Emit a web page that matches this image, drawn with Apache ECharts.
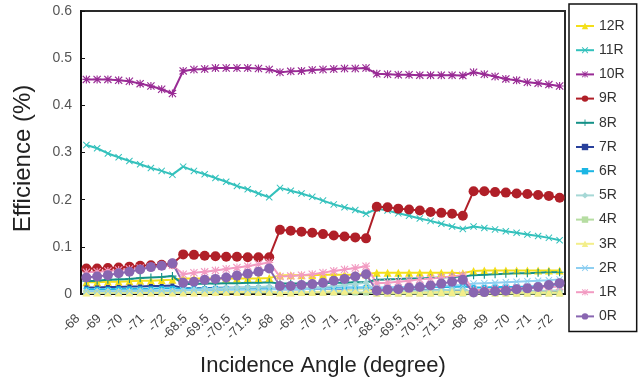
<!DOCTYPE html>
<html>
<head>
<meta charset="utf-8">
<script src="https://cdn.jsdelivr.net/npm/echarts@6/dist/echarts.min.js"></script>
<style>
html,body{margin:0;padding:0;background:#fff;}
#chart{width:639px;height:383px;}
</style>
</head>
<body>
<div id="chart"></div>
<script>
// Incidence angles: five sweeps of -68 .. -72 in 0.5 degree steps
const angles = [
  '-68','-68.5','-69','-69.5','-70','-70.5','-71','-71.5','-72',
  '-68','-68.5','-69','-69.5','-70','-70.5','-71','-71.5','-72',
  '-68','-68.5','-69','-69.5','-70','-70.5','-71','-71.5','-72',
  '-68','-68.5','-69','-69.5','-70','-70.5','-71','-71.5','-72',
  '-68','-68.5','-69','-69.5','-70','-70.5','-71','-71.5','-72'
];

const yTicks = [0, 0.1, 0.2, 0.3, 0.4, 0.5, 0.6];

// Efficiency per diffraction order (%)
const eff12R = [0.025,0.025,0.026,0.026,0.027,0.028,0.028,0.029,0.030, 0.033,0.033,0.033,0.033,0.033,0.033,0.033,0.033,0.034, 0.039,0.040,0.040,0.040,0.041,0.041,0.041,0.041,0.042, 0.045,0.045,0.045,0.045,0.045,0.045,0.045,0.045,0.044, 0.049,0.050,0.050,0.050,0.050,0.050,0.050,0.050,0.050];
const eff11R = [0.316,0.309,0.298,0.290,0.282,0.275,0.267,0.261,0.253, 0.270,0.261,0.254,0.246,0.238,0.229,0.222,0.213,0.205, 0.225,0.219,0.213,0.206,0.198,0.190,0.184,0.178,0.170, 0.181,0.177,0.171,0.166,0.160,0.155,0.149,0.143,0.138, 0.143,0.140,0.137,0.133,0.130,0.126,0.123,0.119,0.114];
const eff10R = [0.455,0.455,0.455,0.453,0.451,0.446,0.441,0.434,0.425, 0.473,0.476,0.477,0.479,0.479,0.479,0.479,0.478,0.476, 0.470,0.472,0.473,0.475,0.476,0.477,0.478,0.478,0.479, 0.467,0.466,0.465,0.465,0.464,0.464,0.464,0.464,0.463, 0.470,0.466,0.461,0.456,0.453,0.449,0.447,0.444,0.441];
const eff9R  = [0.054,0.054,0.055,0.056,0.058,0.060,0.061,0.062,0.064, 0.084,0.083,0.081,0.080,0.079,0.079,0.078,0.078,0.078, 0.136,0.134,0.132,0.130,0.127,0.124,0.122,0.120,0.118, 0.185,0.184,0.181,0.179,0.177,0.174,0.172,0.170,0.166, 0.218,0.218,0.216,0.215,0.213,0.212,0.210,0.208,0.204];
const eff8R  = [0.027,0.028,0.030,0.031,0.032,0.034,0.035,0.036,0.038, 0.021,0.021,0.022,0.022,0.023,0.023,0.024,0.024,0.025, 0.022,0.022,0.022,0.023,0.023,0.024,0.024,0.025,0.025, 0.030,0.031,0.032,0.033,0.033,0.034,0.035,0.036,0.037, 0.040,0.041,0.042,0.043,0.044,0.044,0.045,0.046,0.046];
const eff7R  = [0.014,0.014,0.015,0.015,0.016,0.016,0.017,0.017,0.018, 0.012,0.012,0.012,0.013,0.013,0.013,0.013,0.014,0.014, 0.010,0.010,0.010,0.011,0.011,0.011,0.011,0.012,0.012, 0.007,0.007,0.007,0.008,0.008,0.008,0.008,0.008,0.009, 0.004,0.004,0.004,0.004,0.005,0.005,0.005,0.005,0.005];
const eff6R  = [0.010,0.010,0.010,0.011,0.011,0.011,0.011,0.012,0.012, 0.011,0.011,0.011,0.012,0.012,0.012,0.013,0.013,0.013, 0.012,0.012,0.012,0.013,0.013,0.013,0.014,0.014,0.014, 0.013,0.013,0.014,0.014,0.014,0.015,0.015,0.015,0.016, 0.014,0.014,0.015,0.015,0.015,0.016,0.016,0.016,0.017];
const eff5R  = [0.006,0.006,0.006,0.006,0.006,0.007,0.007,0.007,0.007, 0.008,0.009,0.010,0.011,0.012,0.013,0.014,0.015,0.016, 0.010,0.011,0.012,0.014,0.015,0.017,0.019,0.021,0.024, 0.005,0.006,0.006,0.007,0.007,0.008,0.008,0.009,0.009, 0.004,0.004,0.005,0.005,0.006,0.006,0.007,0.007,0.008];
const eff4R  = [0.002,0.002,0.002,0.002,0.002,0.002,0.002,0.002,0.002, 0.002,0.002,0.002,0.002,0.003,0.003,0.003,0.003,0.003, 0.002,0.002,0.002,0.003,0.003,0.003,0.003,0.003,0.003, 0.001,0.001,0.001,0.001,0.001,0.001,0.001,0.001,0.001, 0.001,0.001,0.001,0.001,0.001,0.001,0.001,0.001,0.001];
const eff3R  = [0.003,0.003,0.003,0.003,0.003,0.003,0.003,0.003,0.003, 0.003,0.003,0.003,0.004,0.004,0.004,0.004,0.005,0.005, 0.003,0.003,0.004,0.004,0.005,0.006,0.007,0.009,0.011, 0.003,0.003,0.003,0.003,0.003,0.003,0.004,0.004,0.004, 0.003,0.003,0.003,0.003,0.003,0.003,0.003,0.003,0.003];
const eff2R  = [0.006,0.006,0.006,0.006,0.006,0.007,0.007,0.007,0.007, 0.008,0.008,0.008,0.008,0.009,0.009,0.009,0.009,0.010, 0.010,0.010,0.010,0.011,0.011,0.011,0.012,0.012,0.012, 0.013,0.014,0.014,0.015,0.016,0.016,0.017,0.018,0.019, 0.022,0.023,0.024,0.025,0.026,0.027,0.028,0.029,0.031];
const eff1R  = [0.046,0.047,0.049,0.051,0.053,0.055,0.057,0.059,0.061, 0.042,0.045,0.047,0.050,0.053,0.056,0.059,0.063,0.067, 0.037,0.038,0.040,0.042,0.045,0.049,0.052,0.055,0.059, 0.023,0.024,0.026,0.028,0.031,0.033,0.035,0.037,0.040, 0.008,0.009,0.010,0.011,0.012,0.013,0.014,0.015,0.016];
const eff0R  = [0.035,0.037,0.040,0.044,0.047,0.052,0.057,0.060,0.065, 0.024,0.026,0.030,0.032,0.035,0.039,0.043,0.047,0.054, 0.017,0.017,0.019,0.021,0.024,0.028,0.032,0.037,0.042, 0.007,0.009,0.010,0.013,0.015,0.018,0.022,0.026,0.030, 0.003,0.004,0.006,0.007,0.010,0.012,0.015,0.019,0.023];

const orderNames = ['12R','11R','10R','9R','8R','7R','6R','5R','4R','3R','2R','1R','0R'];

// Marker glyphs
const X_MARK = 'path://M0,1L1,0L5,4L9,0L10,1L6,5L10,9L9,10L5,6L1,10L0,9L4,5Z';
const PLUS_MARK = 'path://M4.3,0H5.7V4.3H10V5.7H5.7V10H4.3V5.7H0V4.3H4.3Z';
const STAR_MARK = 'path://M0,1L1,0L5,4L9,0L10,1L6,5L10,9L9,10L5,6L1,10L0,9L4,5Z M4.3,0H5.7V4.3H10V5.7H5.7V10H4.3V5.7H0V4.3H4.3Z';
const DASH_MARK = 'path://M0,4H10V6H0Z';

const seriesDefs = [
  { name: '12R', data: eff12R, color: '#f3df1a', symbol: 'triangle', size: 8 },
  { name: '11R', data: eff11R, color: '#33c1bc', symbol: X_MARK, size: 7 },
  { name: '10R', data: eff10R, color: '#992b95', symbol: STAR_MARK, size: 8 },
  { name: '9R',  data: eff9R,  color: '#b01f28', symbol: 'circle', size: 10 },
  { name: '8R',  data: eff8R,  color: '#149188', symbol: PLUS_MARK, size: 8 },
  { name: '7R',  data: eff7R,  color: '#28409b', symbol: 'rect', size: 4 },
  { name: '6R',  data: eff6R,  color: '#1cb6e4', symbol: DASH_MARK, size: 5 },
  { name: '5R',  data: eff5R,  color: '#a6d8d6', symbol: 'diamond', size: 7 },
  { name: '4R',  data: eff4R,  color: '#b6dda2', symbol: 'rect', size: 6 },
  { name: '3R',  data: eff3R,  color: '#f3ee8a', symbol: 'triangle', size: 8 },
  { name: '2R',  data: eff2R,  color: '#8ecff1', symbol: X_MARK, size: 7 },
  { name: '1R',  data: eff1R,  color: '#f29bc2', symbol: STAR_MARK, size: 8 },
  { name: '0R',  data: eff0R,  color: '#8966b1', symbol: 'circle', size: 10 }
];

const FONT = 'Liberation Sans';

const chart = echarts.init(document.getElementById('chart'), null, { renderer: 'canvas' });

chart.setOption({
  animation: false,
  backgroundColor: '#ffffff',
  textStyle: { fontFamily: FONT },
  grid: {
    left: 81, right: 74, top: 11, bottom: 89,
    show: true, borderColor: '#2a2a2a', borderWidth: 2, backgroundColor: 'transparent'
  },
  legend: {
    orient: 'vertical',
    left: 569, top: 4,
    data: orderNames,
    itemWidth: 18, itemHeight: 8, itemGap: 10.2,
    padding: [15, 12, 8, 6],
    borderColor: '#111', borderWidth: 1.5,
    textStyle: { fontFamily: FONT, fontSize: 14, lineHeight: 14, color: '#333' }
  },
  xAxis: {
    type: 'category',
    data: angles,
    boundaryGap: true,
    name: 'Incidence Angle (degree)',
    nameLocation: 'middle',
    nameGap: 61,
    nameTextStyle: { fontFamily: FONT, fontSize: 22, color: '#222' },
    axisLine: { lineStyle: { color: '#111', width: 2 } },
    axisTick: { inside: true, length: 3, interval: 0, alignWithLabel: true, lineStyle: { color: '#111' } },
    axisLabel: { interval: 1, rotate: 45, fontSize: 13, color: '#444', margin: 14, padding: [0, 12, 0, 0], fontFamily: FONT },
    splitLine: { show: false }
  },
  yAxis: {
    type: 'value',
    min: yTicks[0], max: yTicks[yTicks.length - 1], interval: 0.1,
    name: 'Efficience (%)',
    nameLocation: 'middle',
    nameGap: 46,
    nameTextStyle: { fontFamily: FONT, fontSize: 24, color: '#222', padding: [0, 12, 0, 0] },
    axisLine: { show: true, lineStyle: { color: '#111', width: 2 } },
    axisTick: { show: true, inside: true, length: 4, lineStyle: { color: '#111' } },
    axisLabel: { fontSize: 14, color: '#555', margin: 9, fontFamily: FONT },
    splitLine: { show: false }
  },
  series: seriesDefs.map(s => ({
    name: s.name,
    type: 'line',
    data: s.data,
    symbol: s.symbol,
    symbolSize: s.size,
    showSymbol: true,
    showAllSymbol: true,
    color: s.color,
    lineStyle: { color: s.color, width: 2 },
    itemStyle: { color: s.color },
    emphasis: { disabled: true }
  }))
});
</script>
</body>
</html>
